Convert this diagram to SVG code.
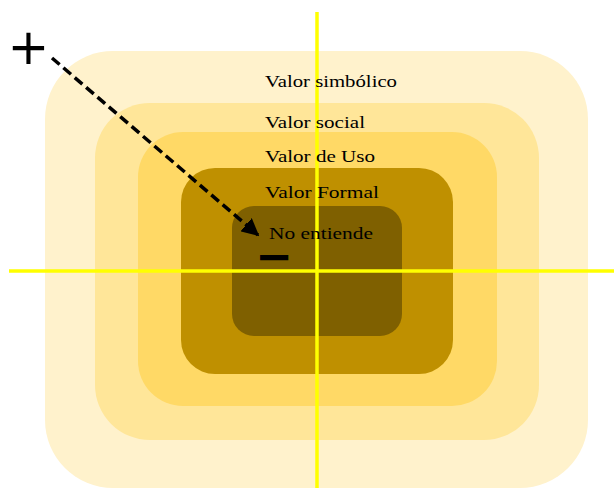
<svg xmlns="http://www.w3.org/2000/svg" width="614" height="488" viewBox="0 0 614 488">
<style>
.lbl{font-family:"Liberation Serif","DejaVu Serif",serif;font-size:17px;fill:#000}
.axis{stroke:#FFFF00;stroke-width:3.5;fill:none}
.sign{font-family:"DejaVu Sans","Liberation Sans",sans-serif;fill:#000}
</style>
<defs>
<marker id="ah" viewBox="0 0 10 10" refX="9" refY="5" markerWidth="5" markerHeight="5" orient="auto" markerUnits="strokeWidth">
<path d="M0,0 L10,5 L0,10 z" fill="#000"/>
</marker>
</defs>
<g id="layer-simbolico"><rect x="45" y="51" width="543" height="437" rx="68" ry="68" fill="#FFF2CC"/></g>
<g id="layer-social"><rect x="95" y="103" width="444" height="337" rx="55" ry="55" fill="#FFE699"/></g>
<g id="layer-uso"><rect x="138" y="132" width="359" height="274" rx="45" ry="45" fill="#FFD966"/></g>
<g id="layer-formal"><rect x="181" y="168" width="272" height="206" rx="34" ry="34" fill="#BF9000"/></g>
<g id="layer-noentiende"><rect x="232" y="206" width="170" height="130" rx="22" ry="22" fill="#7F6000"/></g>
<g id="axes">
<line class="axis" x1="317" y1="12" x2="317" y2="488"/>
<line class="axis" x1="9" y1="271" x2="614" y2="271"/>
</g>
<g id="labels">
<text class="lbl" x="265" y="87" textLength="132" lengthAdjust="spacingAndGlyphs">Valor simbólico</text>
<text class="lbl" x="265" y="128" textLength="100" lengthAdjust="spacingAndGlyphs">Valor social</text>
<text class="lbl" x="265" y="162" textLength="110" lengthAdjust="spacingAndGlyphs">Valor de Uso</text>
<text class="lbl" x="265" y="198" textLength="114" lengthAdjust="spacingAndGlyphs">Valor Formal</text>
<text class="lbl" x="269" y="239" textLength="104" lengthAdjust="spacingAndGlyphs">No entiende</text>
</g>
<g id="signs">
<text class="sign" x="28.5" y="64" font-size="50" text-anchor="middle">+</text>
<text class="sign" x="274" y="272" font-size="45" font-weight="bold" text-anchor="middle">−</text>
</g>
<g id="connectors">
<line x1="52" y1="58" x2="258" y2="235" stroke="#000" stroke-width="3.5" stroke-dasharray="10,5" marker-end="url(#ah)"/>
</g>
</svg>
